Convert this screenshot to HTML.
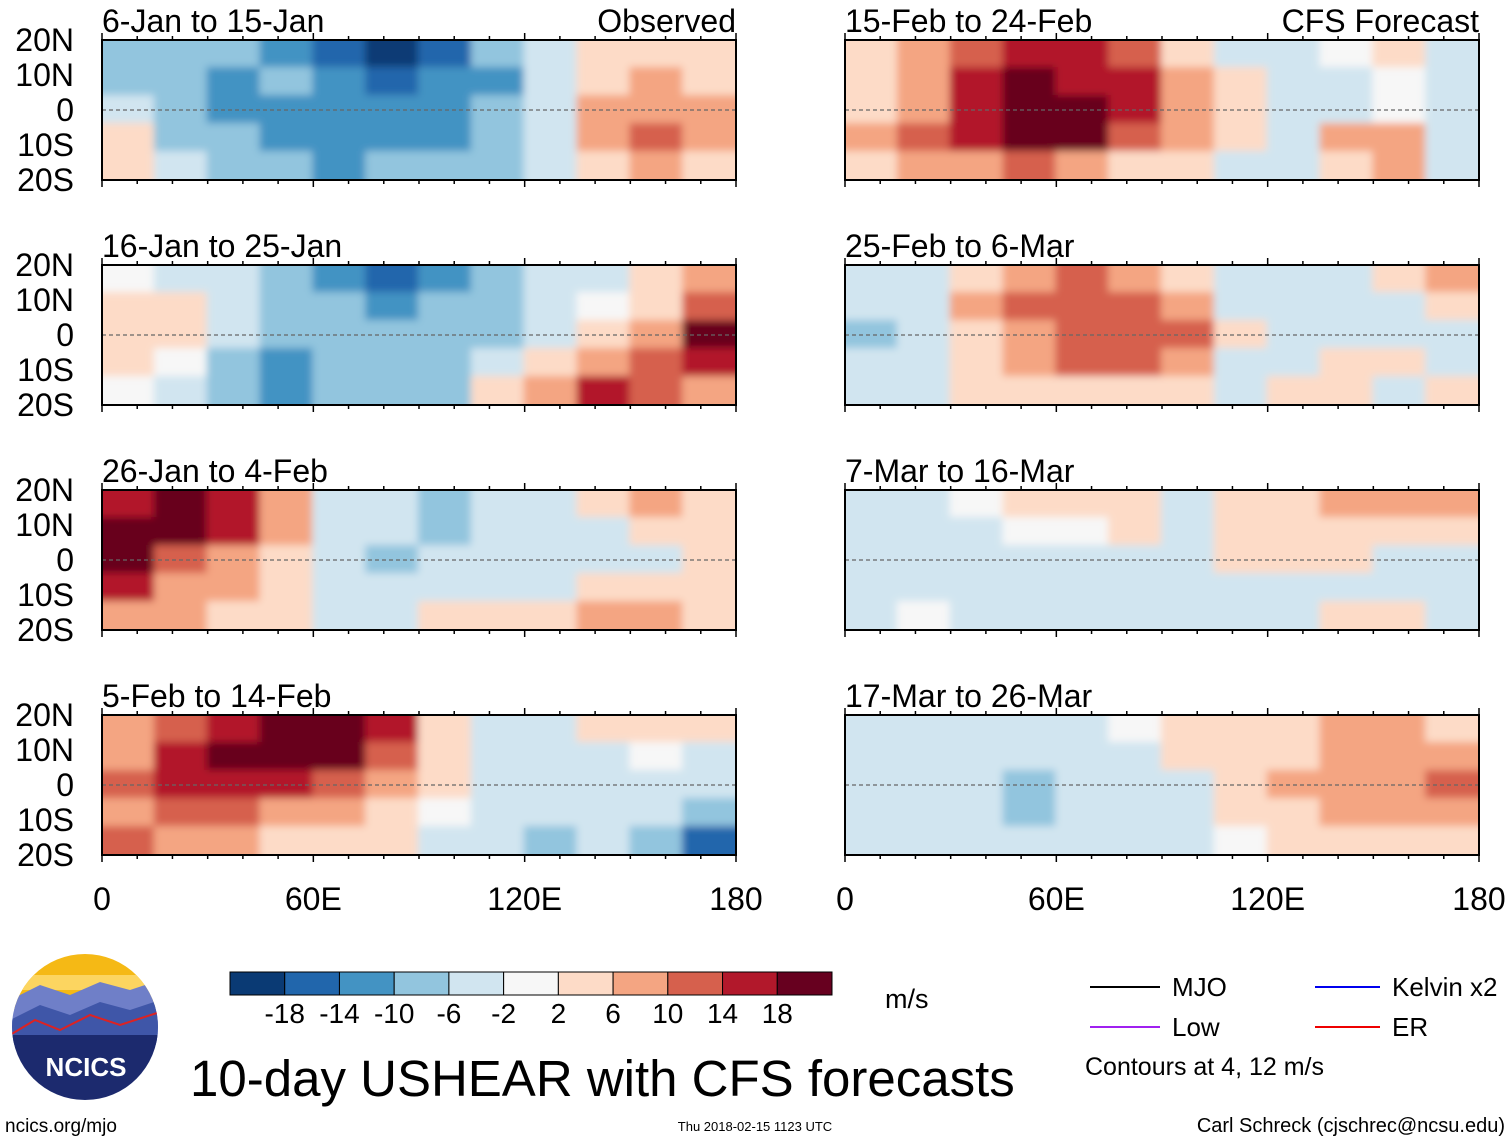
<!DOCTYPE html>
<html><head><meta charset="utf-8">
<style>
html,body{margin:0;padding:0;background:#fff;}
body{width:1510px;height:1142px;overflow:hidden;font-family:"Liberation Sans",sans-serif;}
svg text{font-family:"Liberation Sans",sans-serif;}
</style></head>
<body>
<svg id="chart" width="1510" height="1142" viewBox="0 0 1510 1142" xmlns="http://www.w3.org/2000/svg">
<defs>
<filter id="soft" x="0" y="0" width="1" height="1"><feGaussianBlur stdDeviation="4"/></filter>
</defs>
<g id="panels"></g>
<g id="bottom"></g>
</svg>
<script>
const panelTitles = ["6-Jan to 15-Jan","15-Feb to 24-Feb","16-Jan to 25-Jan","25-Feb to 6-Mar","26-Jan to 4-Feb","7-Mar to 16-Mar","5-Feb to 14-Feb","17-Mar to 26-Mar"];
const latLabels = ["20N","10N","0","10S","20S"];
const lonLabels = ["0","60E","120E","180"];
const lonTicks = [0,60,120,180];
const cbLevels = [-18,-14,-10,-6,-2,2,6,10,14,18];
const cbColors = ["#0a3a74","#2166ac","#4393c3","#92c5de","#d1e5f0","#f7f7f7","#fddbc7","#f4a582","#d6604d","#b2182b","#67001f"];
// grid rows: 20N-12N,12N-4N,4N-4S,4S-12S,12S-20S ; cols: 15deg bins 0..180
const p1 = [[-8,-6,-8,-10,-16,-18,-14,-8,-4,2,4,2],[-6,-8,-10,-8,-12,-14,-12,-10,-4,4,6,2],[-4,-8,-10,-10,-10,-10,-10,-8,-2,6,8,6],[2,-6,-8,-12,-10,-12,-10,-8,-2,8,12,6],[4,-4,-6,-8,-10,-8,-8,-6,-2,4,6,2]];
const p2 = [[2,6,10,14,14,10,4,-2,-2,0,2,-2],[4,8,14,18,14,14,6,2,-2,-2,0,-2],[4,8,14,18,18,14,8,2,-2,-2,0,-2],[6,10,14,18,18,10,6,2,-2,6,6,-2],[4,6,6,10,6,4,2,-2,-2,2,6,-4]];
const p3 = [[0,-2,-4,-8,-12,-16,-12,-8,-4,-2,2,6],[2,2,-4,-8,-8,-10,-8,-6,-2,0,4,10],[4,2,-2,-8,-8,-6,-6,-6,-2,4,8,18],[2,0,-6,-10,-8,-6,-6,-2,4,8,12,14],[0,-2,-8,-12,-8,-6,-6,2,6,14,10,6]];
const p4 = [[-2,-2,2,6,10,6,2,-2,-2,-2,2,6],[-4,-2,6,10,12,10,6,-2,-2,-2,-2,2],[-6,-2,2,8,12,12,10,2,-2,-2,-2,-2],[-4,-2,2,6,10,10,6,-2,-2,2,2,-2],[-2,-2,2,2,4,4,2,-2,2,2,-2,2]];
const p5 = [[14,18,14,8,-2,-4,-6,-4,-2,2,6,4],[18,18,14,6,-4,-4,-6,-4,-2,-2,2,2],[18,12,8,4,-4,-6,-4,-4,-2,-2,-2,2],[14,8,6,2,-4,-4,-2,-2,-2,2,4,2],[8,6,4,2,-2,-2,2,2,4,6,8,2]];
const p6 = [[-2,-2,0,2,2,2,-2,2,2,6,6,6],[-2,-2,-2,0,0,2,-2,2,4,4,2,4],[-2,-2,-2,-4,-2,-2,-2,2,4,4,-2,-2],[-4,-2,-2,-4,-2,-2,-2,-2,-2,-2,-2,-2],[-2,0,-2,-2,-2,-2,-2,-2,-2,2,2,-2]];
const p7 = [[6,10,14,18,18,14,2,-2,-2,2,4,2],[8,14,18,18,18,12,4,-2,-4,-2,0,-2],[10,14,14,14,10,8,2,-4,-4,-2,-2,-4],[8,10,10,8,6,4,0,-2,-4,-2,-4,-6],[10,8,6,4,2,2,-2,-4,-6,-4,-6,-14]];
const p8 = [[-2,-2,-2,-2,-2,0,2,2,4,6,6,4],[-2,-2,-2,-4,-2,-2,2,2,4,6,6,6],[-2,-2,-4,-6,-4,-2,-2,2,6,6,8,10],[-2,-2,-4,-6,-4,-2,-2,2,4,6,6,6],[-2,-2,-2,-4,-2,-2,-2,0,2,2,2,2]];
const panelData = [p1,p2,p3,p4,p5,p6,p7,p8];

const NS="http://www.w3.org/2000/svg";
function mk(tag, attrs, parent){const e=document.createElementNS(NS,tag);for(const k in attrs)e.setAttribute(k,attrs[k]);if(parent)parent.appendChild(e);return e;}
function binIndex(v){ if(v===0) return 5; let n=0; for(const b of cbLevels){ if(v>0? b<=v : b<v) n++; } return n; }
const colX=[102,845], rowY=[40,265,490,715], PW=634, PH=140;
const panels=document.getElementById('panels');
panelData.forEach((grid,i)=>{
  const x0=colX[i%2], y0=rowY[Math.floor(i/2)];
  const xs=lon=>x0+lon/180*PW, ys=lat=>y0+(20-lat)/40*PH;
  const g=mk('g',{},panels);
  
  
  const clipId='clip'+i;
  const cp=mk('clipPath',{id:clipId},g); mk('rect',{x:x0,y:y0,width:PW,height:PH},cp);
  const cg=mk('g',{'clip-path':'url(#'+clipId+')'},g);
  mk('rect',{x:x0,y:y0,width:PW,height:PH,fill:'#f7f7f7'},cg);
  const fg=mk('g',{filter:'url(#soft)'},cg);
  const nr=grid.length, nc=grid[0].length;
  grid.forEach((row,r)=>row.forEach((v,c)=>{
    const lat0=20-r*40/nr, lon0=c*180/nc;
    let x=xs(lon0)-1, w=xs(180/nc)-x0+2, y=ys(lat0)-1, h=ys(20-40/nr)-y0+2;
    if(c===0){x-=10;w+=10;} if(c===nc-1){w+=10;}
    if(r===0){y-=10;h+=10;} if(r===nr-1){h+=10;}
    const cell=mk('rect',{x:x,y:y,width:w,height:h,fill:cbColors[binIndex(v)]},fg);
    
    
  }));
  mk('line',{x1:x0,x2:x0+PW,y1:ys(0),y2:ys(0),stroke:'#666','stroke-width':1.2,'stroke-dasharray':'4,3'},g);
  mk('rect',{x:x0,y:y0,width:PW,height:PH,fill:'none',stroke:'#000','stroke-width':2},g);
  for(let lon=0;lon<=180;lon+=10){
    const L=lonTicks.includes(lon)?7:4;
    mk('line',{x1:xs(lon),x2:xs(lon),y1:y0,y2:y0-L,stroke:'#000','stroke-width':1.5},g);
    mk('line',{x1:xs(lon),x2:xs(lon),y1:y0+PH,y2:y0+PH+L,stroke:'#000','stroke-width':1.5},g);
  }
  const t=mk('text',{x:x0,y:y0-8,'font-size':32,fill:'#000'},g); t.textContent=panelTitles[i];
   
  if(i===0||i===1){const tt=mk('text',{x:x0+PW,y:y0-8,'font-size':32,'text-anchor':'end'},g);tt.textContent=i===0?'Observed':'CFS Forecast';
     }
  if(i%2===0){
    latLabels.forEach((lb,k)=>{const lt=mk('text',{x:74,y:y0+k*35+11,'font-size':32,'text-anchor':'end'},g);lt.textContent=lb;
       });
  }
  if(i>=6){
    lonLabels.forEach((lb,k)=>{const lt=mk('text',{x:xs(lonTicks[k]),y:910,'font-size':32,'text-anchor':'middle'},g);lt.textContent=lb;
       });
  }
});

const bot=document.getElementById('bottom');
const cb=mk('g',{},bot);
 
const cbx0=230, cbw=602/11;
cbColors.forEach((c,k)=>{mk('rect',{x:cbx0+k*cbw,y:972,width:cbw,height:23,fill:c,stroke:'#000','stroke-width':1},cb);});
cbLevels.forEach((v,k)=>{const t=mk('text',{x:cbx0+(k+1)*cbw,y:1023,'font-size':28,'text-anchor':'middle'},cb);t.textContent=String(v);});
const mu=mk('text',{x:885,y:1008,'font-size':27},bot);mu.textContent='m/s';
 
</script>
<svg style="position:absolute;left:0;top:0" width="1510" height="1142">
  <g>
    <clipPath id="lc"><circle cx="85" cy="1027" r="73"/></clipPath>
    <g clip-path="url(#lc)">
      <rect x="10" y="950" width="150" height="60" fill="#f5b915"/>
      <rect x="10" y="975" width="150" height="15" fill="#fcd560"/>
      <path d="M10 1000 L40 985 L70 995 L100 982 L130 990 L160 980 L160 1040 L10 1040Z" fill="#6f7fc8"/>
      <path d="M10 1020 L40 1005 L70 1015 L100 1002 L130 1010 L160 1000 L160 1045 L10 1045Z" fill="#3f56a8"/>
      <path d="M10 1035 L35 1020 L60 1030 L90 1015 L120 1025 L160 1012" fill="none" stroke="#d22" stroke-width="2"/>
      <rect x="10" y="1035" width="150" height="70" fill="#1c2a6e"/>
    </g>
    <text x="86" y="1076" font-size="26" font-weight="bold" fill="#fff" text-anchor="middle">NCICS</text>
  </g>
  <text x="190" y="1096" font-size="51">10-day USHEAR with CFS forecasts</text>
  <g>
    <line x1="1090" x2="1160" y1="987" y2="987" stroke="#000" stroke-width="2"/>
    <text x="1172" y="996" font-size="26">MJO</text>
    <line x1="1090" x2="1160" y1="1027" y2="1027" stroke="#a020f0" stroke-width="2"/>
    <text x="1172" y="1036" font-size="26">Low</text>
    <line x1="1315" x2="1380" y1="987" y2="987" stroke="#0000ee" stroke-width="2"/>
    <text x="1392" y="996" font-size="26">Kelvin x2</text>
    <line x1="1315" x2="1380" y1="1027" y2="1027" stroke="#ee0000" stroke-width="2"/>
    <text x="1392" y="1036" font-size="26">ER</text>
    <text x="1085" y="1075" font-size="25">Contours at 4, 12 m/s</text>
  </g>
  <text x="5" y="1132" font-size="19">ncics.org/mjo</text>
  <text x="755" y="1131" font-size="13" text-anchor="middle">Thu 2018-02-15 1123 UTC</text>
  <text x="1505" y="1132" font-size="20" text-anchor="end">Carl Schreck (cjschrec@ncsu.edu)</text>
</svg>
</body></html>
